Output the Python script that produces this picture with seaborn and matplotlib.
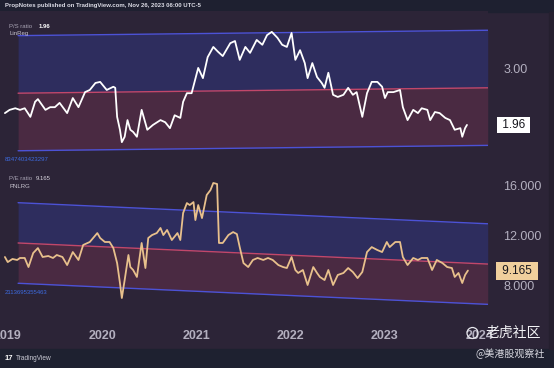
import matplotlib
matplotlib.use("Agg")
import matplotlib.pyplot as plt
import matplotlib.transforms as mtransforms
from matplotlib.patches import Rectangle, Circle
import numpy as np
import pandas as pd
import seaborn as sns

# P/S ratio (weekly-ish samples, decimal years)
ps_t = [2018.97, 2019.02, 2019.08, 2019.13, 2019.18, 2019.24, 2019.29, 2019.32, 2019.40, 2019.45,
        2019.50, 2019.55, 2019.63, 2019.69, 2019.75, 2019.82, 2019.87, 2019.93, 2019.98, 2020.05,
        2020.12, 2020.14, 2020.16, 2020.19, 2020.21, 2020.24, 2020.27, 2020.30, 2020.33, 2020.37,
        2020.42, 2020.48, 2020.54, 2020.62, 2020.67, 2020.72, 2020.77, 2020.83, 2020.86, 2020.90,
        2020.95, 2021.02, 2021.07, 2021.12, 2021.18, 2021.23, 2021.28, 2021.36, 2021.41, 2021.46,
        2021.52, 2021.57, 2021.64, 2021.70, 2021.75, 2021.80, 2021.86, 2021.91, 2021.96, 2022.01,
        2022.05, 2022.10, 2022.15, 2022.18, 2022.23, 2022.28, 2022.33, 2022.36, 2022.40, 2022.45,
        2022.50, 2022.56, 2022.61, 2022.66, 2022.70, 2022.76, 2022.81, 2022.86, 2022.92, 2022.97,
        2023.00, 2023.03, 2023.09, 2023.16, 2023.19, 2023.24, 2023.30, 2023.35, 2023.39, 2023.45,
        2023.48, 2023.53, 2023.58, 2023.64, 2023.69, 2023.74, 2023.80, 2023.82, 2023.85, 2023.87]
ps_v = [2.18, 2.24, 2.27, 2.24, 2.27, 2.11, 2.39, 2.44, 2.24, 2.29,
        2.29, 2.37, 2.18, 2.46, 2.29, 2.57, 2.61, 2.74, 2.76, 2.61,
        2.67, 2.65, 2.11, 1.87, 1.64, 1.74, 2.05, 1.87, 1.83, 1.74,
        2.24, 1.87, 1.96, 2.05, 2.01, 1.90, 2.14, 2.09, 2.39, 2.55,
        2.55, 3.02, 2.83, 3.22, 3.41, 3.32, 3.24, 3.48, 3.52, 3.17,
        3.41, 3.30, 3.54, 3.45, 3.63, 3.69, 3.58, 3.45, 3.41, 3.67,
        3.17, 3.35, 3.11, 2.83, 3.11, 2.85, 2.74, 2.65, 2.93, 2.52,
        2.48, 2.52, 2.65, 2.52, 2.57, 2.11, 2.55, 2.76, 2.76, 2.67,
        2.46, 2.57, 2.57, 2.61, 2.29, 2.05, 2.24, 2.18, 2.27, 2.24,
        2.05, 2.20, 2.18, 2.09, 2.05, 1.87, 1.90, 1.74, 1.90, 1.96]

# P/E ratio
pe_t = [2018.97, 2019.00, 2019.05, 2019.10, 2019.13, 2019.18, 2019.22, 2019.27, 2019.32, 2019.37,
        2019.43, 2019.48, 2019.52, 2019.58, 2019.63, 2019.69, 2019.75, 2019.80, 2019.87, 2019.95,
        2019.98, 2020.03, 2020.08, 2020.12, 2020.16, 2020.19, 2020.21, 2020.24, 2020.28, 2020.30,
        2020.33, 2020.37, 2020.42, 2020.46, 2020.49, 2020.53, 2020.58, 2020.62, 2020.65, 2020.69,
        2020.74, 2020.80, 2020.83, 2020.86, 2020.90, 2020.93, 2020.97, 2020.99, 2021.02, 2021.06,
        2021.11, 2021.15, 2021.18, 2021.22, 2021.24, 2021.28, 2021.34, 2021.39, 2021.43, 2021.46,
        2021.50, 2021.55, 2021.60, 2021.65, 2021.71, 2021.76, 2021.81, 2021.87, 2021.92, 2021.96,
        2022.01, 2022.05, 2022.08, 2022.13, 2022.18, 2022.24, 2022.28, 2022.31, 2022.36, 2022.40,
        2022.45, 2022.50, 2022.56, 2022.61, 2022.66, 2022.71, 2022.76, 2022.81, 2022.86, 2022.92,
        2022.97, 2023.02, 2023.05, 2023.11, 2023.16, 2023.19, 2023.24, 2023.30, 2023.35, 2023.39,
        2023.45, 2023.50, 2023.55, 2023.61, 2023.66, 2023.71, 2023.74, 2023.78, 2023.82, 2023.85,
        2023.88]
pe_v = [10.26, 9.85, 10.10, 10.02, 10.18, 10.18, 9.45, 10.58, 10.98, 10.26,
        10.34, 10.18, 10.42, 10.26, 9.61, 10.66, 10.02, 11.23, 11.47, 12.19,
        11.79, 11.47, 11.47, 10.98, 9.77, 8.16, 6.95, 8.40, 10.42, 9.45,
        9.21, 8.65, 11.39, 9.37, 11.79, 12.03, 12.19, 12.60, 12.03, 12.44,
        11.63, 12.19, 11.63, 13.81, 14.61, 14.45, 14.69, 13.24, 14.45, 13.40,
        15.26, 15.66, 16.23, 16.15, 11.39, 11.39, 12.03, 12.27, 12.11, 11.06,
        9.77, 9.45, 10.02, 10.18, 10.02, 10.18, 10.02, 9.61, 9.45, 9.37,
        10.26, 9.21, 8.97, 9.21, 8.00, 9.45, 8.97, 8.65, 8.40, 9.21,
        8.00, 8.81, 8.97, 9.37, 9.05, 8.56, 9.05, 10.66, 11.06, 10.82,
        10.66, 11.47, 11.06, 11.47, 11.47, 10.26, 9.61, 10.18, 10.02, 10.18,
        10.18, 9.21, 10.02, 9.77, 9.45, 9.37, 8.65, 8.97, 8.16, 8.81,
        9.165]

# regression channels: start/end time, centre line at start/end, deviation
chan_t = [2019.11, 2024.09]
ps_mid = [2.55, 2.65]
ps_dev = 1.07
pe_mid = [11.39, 9.69]
pe_dev = 3.25

years = [2019, 2020, 2021, 2022, 2023, 2024]

BG = "#2c2437"
BAND_HI = "#2e2d5e"
BAND_LO = "#4a2a42"
EDGE = "#4c52d6"
MIDC = "#c2476a"
PE_COLOR = "#e8c08c"
TICK_C = "#b3afbf"

sns.set_theme(style="dark", rc={"axes.facecolor": BG, "figure.facecolor": BG})
plt.rcParams["font.family"] = ["Liberation Sans", "DejaVu Sans"]

W, H = 554, 368
fig = plt.figure(figsize=(W / 100, H / 100), dpi=100, facecolor=BG)


def px(x, y):
    return x / W, 1 - y / H


ax1 = fig.add_axes([0, 1 - 167 / H, 488 / W, 156 / H])
ax2 = fig.add_axes([0, 1 - 322 / H, 488 / W, 155 / H])

ps = pd.DataFrame({"t": ps_t, "v": ps_v})
pe = pd.DataFrame({"t": pe_t, "v": pe_v})

for ax, df, col, mid, dev in [(ax1, ps, "white", ps_mid, ps_dev),
                              (ax2, pe, PE_COLOR, pe_mid, pe_dev)]:
    ct = np.array(chan_t)
    m = np.array(mid)
    ax.fill_between(ct, m, m + dev, color=BAND_HI, lw=0, zorder=1)
    ax.fill_between(ct, m - dev, m, color=BAND_LO, lw=0, zorder=1)
    ax.plot(ct, m + dev, color=EDGE, lw=1, zorder=2)
    ax.plot(ct, m - dev, color=EDGE, lw=1, zorder=2)
    ax.plot(ct, m, color=MIDC, lw=1, zorder=2)
    sns.lineplot(data=df, x="t", y="v", ax=ax, color=col, lw=1.3,
                 estimator=None, sort=False, zorder=3)
    ax.set_xlim(2018.918, 2024.093)
    ax.set_xlabel("")
    ax.set_ylabel("")
    ax.grid(False)
    for s in ax.spines.values():
        s.set_visible(False)
    ax.yaxis.tick_right()
    ax.tick_params(axis="y", length=0, pad=11, labelsize=9, labelcolor=TICK_C)
    ax.set_facecolor(BG)

ax1.set_ylim(1.178, 4.078)
ax1.set_yticks([3.0])
ax1.set_yticklabels(["3.00"])
ax1.set_xticks([])

ax2.set_ylim(5.016, 17.52)
ax2.set_yticks([8, 12, 16])
ax2.set_yticklabels(["%.3f" % v for v in [8, 12, 16]])
ax2.set_xticks(years)
ax2.set_xticklabels([str(y) for y in years], fontweight="bold")
ax2.tick_params(axis="x", length=0, pad=6, labelsize=9, labelcolor=TICK_C)

# last value badges
for ax, val, txt, fc, pad in [(ax1, ps_v[-1], " 1.96 ", "white", 0.15),
                              (ax2, pe_v[-1], " 9.165 ", "#f0cf9c", 0.25)]:
    tr = mtransforms.blended_transform_factory(ax.transAxes, ax.transData)
    ax.text(1.0225, val, txt, transform=tr, ha="left", va="center", fontsize=8.5,
            color="#15151c", clip_on=False, zorder=6,
            bbox=dict(boxstyle="square,pad=%s" % pad, fc=fc, ec="none"))

# header / footer strips
fig.add_artist(Rectangle((0, 1 - 12 / H), 1, 12 / H, transform=fig.transFigure,
                         color="#1e2030", zorder=0))
fig.add_artist(Rectangle((0, 0), 1, 19 / H, transform=fig.transFigure,
                         color="#1e2130", zorder=0))
fig.add_artist(Rectangle((549 / W, 19 / H), 5 / W, 1 - 31 / H, transform=fig.transFigure,
                         color="#251f2f", zorder=0))

fig.text(*px(5, 6), "PropNotes published on TradingView.com, Nov 26, 2023 06:00 UTC-5",
         fontsize=4.3, color="#dcdce6", va="center", fontweight="bold")

# pane legends
fig.text(*px(9, 27), "P/S ratio", fontsize=4.3, color="#a8a3b3", va="center")
fig.text(*px(39, 27), "1.96", fontsize=4.3, color="white", va="center", fontweight="bold")
fig.text(*px(9, 34), "LinReg", fontsize=4.3, color="#c8c4d0", va="center")
fig.text(*px(9, 179), "P/E ratio", fontsize=4.3, color="#a8a3b3", va="center")
fig.text(*px(36, 179), "9.165", fontsize=4.3, color="#d8d4de", va="center")
fig.text(*px(9, 187), "PNLRG", fontsize=4.3, color="#c8c4d0", va="center")
fig.text(*px(5, 160), "8347403423297", fontsize=4.3, color="#3d6be0", va="center")
fig.text(*px(5, 292), "2113695355463", fontsize=4.3, color="#3d6be0", va="center")

# footer logo
fig.text(*px(5, 358), "17", fontsize=5.5, color="white", va="center", fontweight="bold")
fig.text(*px(16, 358), "TradingView", fontsize=4.7, color="#c9cad4", va="center")

# watermark
cjk = ["Noto Sans CJK SC", "DejaVu Sans"]
fig.add_artist(Circle((472.5 / 100, (H - 333) / 100), 0.055, transform=fig.dpi_scale_trans,
                      fill=False, ec="#e8e8ee", lw=0.9, zorder=8))
fig.text(*px(486, 333), "老虎社区", fontsize=10, color="#f2f2f5", va="center",
         family=cjk, zorder=9)
fig.text(*px(475, 354), "@美港股观察社", fontsize=7.2, color="#dcdce4", va="center",
         family=cjk, zorder=9)

fig.savefig("out.png", dpi=100, facecolor=BG)
